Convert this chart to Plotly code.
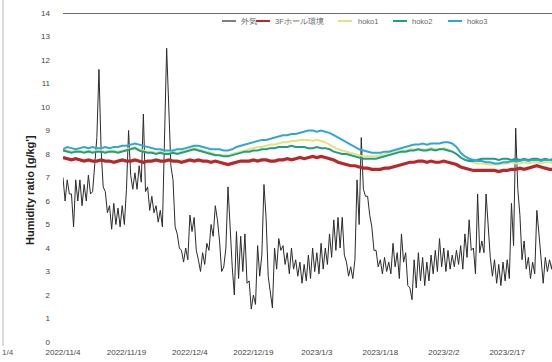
import numpy as np
import pandas as pd
import plotly.graph_objects as go

# ---- data -------------------------------------------------------------
start = "2022-11-04"

# outdoor humidity ratio, two readings per day (00h / 12h)
outdoor = [
    7.0, 6.0, 6.9, 6.3, 6.3, 4.9, 6.9, 6.0, 6.9, 5.8, 6.7, 6.0, 7.1, 6.3, 6.4, 7.4,
    8.7, 11.6, 8.2, 6.6, 6.4, 5.5, 5.8, 4.8, 5.9, 5.0, 5.7, 4.9, 5.8, 5.0, 6.5, 9.0,
    7.1, 6.5, 7.2, 6.5, 7.5, 6.8, 9.7, 6.4, 6.6, 5.6, 6.2, 5.5, 5.8, 5.1, 5.6, 4.9,
    8.9, 12.5, 10.0, 7.5, 6.9, 4.9, 4.6, 4.0, 3.9, 3.4, 4.0, 3.5, 5.4, 4.7, 5.3, 3.9,
    3.5, 3.0, 3.8, 3.3, 4.2, 3.9, 5.0, 4.5, 5.8, 5.2, 4.3, 3.0, 3.2, 4.0, 6.6, 4.6,
    3.2, 2.0, 4.7, 2.7, 4.5, 3.0, 4.6, 2.5, 2.6, 1.4, 2.0, 1.6, 4.1, 2.8, 3.7, 6.7,
    5.3, 2.8, 2.2, 1.45, 4.0, 3.1, 4.4, 3.9, 4.1, 3.3, 3.8, 2.9, 4.0, 3.1, 3.5, 2.8,
    3.4, 2.5, 3.3, 2.6, 3.7, 2.7, 4.0, 3.0, 3.8, 2.9, 4.2, 3.1, 4.0, 3.3, 4.6, 3.6,
    5.2, 3.9, 5.3, 4.0, 5.3, 3.7, 3.4, 2.8, 3.2, 2.7, 3.5, 6.9, 5.0, 8.7, 6.5, 6.2,
    6.2, 5.4, 4.9, 3.9, 3.9, 3.2, 3.5, 2.9, 3.6, 3.0, 3.4, 2.9, 4.2, 3.2, 3.8, 2.7,
    4.6, 3.4, 3.8, 2.4, 2.3, 1.8, 3.5, 2.3, 3.8, 2.6, 3.6, 2.4, 3.4, 2.6, 3.7, 2.9,
    3.9, 3.0, 4.4, 3.2, 4.0, 3.0, 3.9, 3.1, 3.7, 3.2, 3.9, 3.3, 4.1, 3.1, 4.6, 3.6,
    5.2, 3.9, 4.0, 2.9, 6.3, 3.8, 4.3, 3.8, 6.3, 4.8, 3.6, 2.8, 3.5, 2.5, 3.3, 2.4,
    3.4, 2.6, 3.5, 2.7, 5.9, 4.1, 9.1, 6.5, 5.4, 3.5, 4.3, 3.1, 3.6, 2.7, 3.4, 2.9,
    5.6, 4.6, 3.4, 2.5, 3.6, 3.0, 3.5, 3.1, 3.8, 3.2,
]

# indoor series, daily values
room3f = [
    7.85, 7.8, 7.75, 7.8, 7.75, 7.7, 7.75, 7.7, 7.7, 7.75, 7.7,
    7.7, 7.65, 7.7, 7.75, 7.7, 7.7, 7.75, 7.7, 7.65, 7.7,
    7.7, 7.75, 7.7, 7.7, 7.75, 7.7, 7.7, 7.65, 7.7, 7.75,
    7.7, 7.75, 7.7, 7.7, 7.65, 7.7, 7.65, 7.6, 7.55, 7.6,
    7.65, 7.7, 7.7, 7.7, 7.75, 7.7, 7.75, 7.75, 7.7, 7.7,
    7.75, 7.75, 7.8, 7.75, 7.8, 7.85, 7.8, 7.85, 7.9, 7.85,
    7.9, 7.85, 7.8, 7.75, 7.65, 7.6, 7.55, 7.5, 7.5, 7.45,
    7.4, 7.4, 7.35, 7.35, 7.35, 7.4, 7.4, 7.45, 7.5, 7.55,
    7.6, 7.65, 7.65, 7.7, 7.7, 7.65, 7.7, 7.65, 7.65, 7.7,
    7.65, 7.6, 7.55, 7.45, 7.4, 7.35, 7.3, 7.3, 7.3, 7.3,
    7.3, 7.3, 7.25, 7.3, 7.3, 7.35, 7.35, 7.4, 7.35, 7.4,
    7.45, 7.5, 7.45, 7.4, 7.35, 7.35,
]
hoko1 = [
    8.2, 8.15, 8.1, 8.15, 8.15, 8.1, 8.15, 8.1, 8.15, 8.15, 8.1,
    8.15, 8.15, 8.1, 8.15, 8.2, 8.25, 8.3, 8.2, 8.15, 8.1,
    8.1, 8.05, 8.1, 8.05, 8.05, 8.1, 8.05, 8.1, 8.15, 8.2,
    8.25, 8.2, 8.15, 8.1, 8.05, 8.0, 7.95, 7.95, 7.95, 8.0,
    8.05, 8.1, 8.15, 8.2, 8.25, 8.3, 8.3, 8.35, 8.4, 8.4,
    8.45, 8.5, 8.5, 8.55, 8.55, 8.6, 8.6, 8.6, 8.55, 8.6,
    8.55, 8.5, 8.4, 8.3, 8.2, 8.15, 8.1, 8.05, 8.0, 7.95,
    7.9, 7.9, 7.9, 7.9, 7.95, 8.0, 8.05, 8.05, 8.1, 8.15,
    8.15, 8.2, 8.2, 8.2, 8.2, 8.2, 8.25, 8.2, 8.2, 8.25,
    8.2, 8.1, 8.0, 7.85, 7.75, 7.7, 7.65, 7.6, 7.6, 7.55,
    7.55, 7.55, 7.55, 7.6, 7.6, 7.65, 7.6, 7.6, 7.65, 7.6,
    7.65, 7.65, 7.6, 7.65, 7.65, 7.6,
]
hoko2 = [
    8.15, 8.1, 8.05, 8.1, 8.1, 8.05, 8.1, 8.05, 8.1, 8.1, 8.05,
    8.1, 8.1, 8.05, 8.1, 8.15, 8.2, 8.25, 8.15, 8.1, 8.05,
    8.05, 8.0, 8.05, 8.0, 8.0, 8.05, 8.0, 8.05, 8.1, 8.15,
    8.2, 8.15, 8.1, 8.05, 8.0, 7.95, 7.95, 7.9, 7.9, 7.95,
    8.0, 8.05, 8.1, 8.1, 8.15, 8.15, 8.2, 8.2, 8.25, 8.25,
    8.3, 8.3, 8.3, 8.35, 8.3, 8.3, 8.3, 8.25, 8.25, 8.3,
    8.25, 8.25, 8.2, 8.1, 8.05, 8.0, 8.0, 7.95, 7.9, 7.85,
    7.8, 7.8, 7.8, 7.8, 7.85, 7.9, 7.95, 8.0, 8.05, 8.1,
    8.1, 8.15, 8.15, 8.2, 8.15, 8.15, 8.2, 8.15, 8.2, 8.2,
    8.15, 8.1, 8.0, 7.85, 7.75, 7.7, 7.7, 7.75, 7.8, 7.8,
    7.8, 7.8, 7.75, 7.8, 7.8, 7.75, 7.8, 7.75, 7.8, 7.75,
    7.8, 7.8, 7.75, 7.8, 7.75, 7.8,
]
hoko3 = [
    8.2, 8.3, 8.25, 8.2, 8.25, 8.3, 8.25, 8.3, 8.25, 8.25, 8.3,
    8.25, 8.3, 8.3, 8.35, 8.35, 8.4, 8.45, 8.4, 8.35, 8.3,
    8.25, 8.2, 8.2, 8.15, 8.15, 8.15, 8.2, 8.2, 8.25, 8.3,
    8.35, 8.35, 8.3, 8.25, 8.2, 8.2, 8.2, 8.15, 8.15, 8.2,
    8.3, 8.35, 8.4, 8.45, 8.5, 8.55, 8.6, 8.6, 8.65, 8.7,
    8.75, 8.8, 8.8, 8.85, 8.85, 8.9, 8.95, 9.0, 9.0, 8.95,
    9.0, 8.95, 8.9, 8.8, 8.7, 8.6, 8.5, 8.4, 8.3, 8.2,
    8.15, 8.1, 8.05, 8.05, 8.05, 8.1, 8.1, 8.15, 8.2, 8.25,
    8.3, 8.35, 8.4, 8.4, 8.45, 8.4, 8.45, 8.45, 8.45, 8.5,
    8.5, 8.45, 8.3, 8.05, 7.9, 7.8, 7.75, 7.7, 7.7, 7.65,
    7.65, 7.6, 7.6, 7.65, 7.65, 7.7, 7.7, 7.7, 7.75, 7.7,
    7.75, 7.75, 7.7, 7.75, 7.75, 7.7,
]

series_names = ["外気", "3Fホール環境", "hoko1", "hoko2", "hoko3"]
series_colors = ["#2b2b2b", "#b8282a", "#e4e47a", "#1f9e86", "#2ea6d6"]
y_ticks = list(range(0, 15))

t_half = pd.date_range(start, periods=len(outdoor), freq="12h")
t_day = pd.date_range(start, periods=len(room3f), freq="D")

# ---- figure -----------------------------------------------------------
W, H = 552, 362
L, R, T, B = 63, 0, 13, 20
pw, ph = W - L - R, H - T - B


def px(x):
    return (x - L) / pw


def py(y):
    return (H - B - y) / ph


fig = go.Figure()
fig.add_trace(go.Scatter(x=t_half, y=outdoor, mode="lines",
                         line=dict(color=series_colors[0], width=1), showlegend=False))
fig.add_trace(go.Scatter(x=t_day, y=room3f, mode="lines",
                         line=dict(color=series_colors[1], width=3.2), showlegend=False))
fig.add_trace(go.Scatter(x=t_day, y=hoko1, mode="lines",
                         line=dict(color=series_colors[2], width=2), showlegend=False))
fig.add_trace(go.Scatter(x=t_day, y=hoko2, mode="lines",
                         line=dict(color=series_colors[3], width=2), showlegend=False))
fig.add_trace(go.Scatter(x=t_day, y=hoko3, mode="lines",
                         line=dict(color=series_colors[4], width=2), showlegend=False))

shapes = []
annotations = []

# top border line at the axis maximum
shapes.append(dict(type="line", xref="paper", yref="y", x0=0, x1=1, y0=14, y1=14,
                   line=dict(color="#3a3a3a", width=1.3)))

# compact legend row
legend_items = [(222, 239), (256, 273), (338, 356), (393, 410), (448, 465)]
for (lx, tx), name, col in zip(legend_items, series_names, series_colors):
    shapes.append(dict(type="line", xref="paper", yref="paper",
                       x0=px(lx), x1=px(lx + 14), y0=py(21), y1=py(21),
                       line=dict(color=col, width=2 if col != series_colors[0] else 1.2)))
    annotations.append(dict(x=px(tx), y=py(21), xref="paper", yref="paper",
                            text=name, showarrow=False, xanchor="left", yanchor="middle",
                            font=dict(size=7.5, color="#666", family="Liberation Sans")))

# neighbouring panel edge and its last tick label
shapes.append(dict(type="line", xref="paper", yref="paper", x0=px(3), x1=px(3),
                   y0=py(0), y1=py(346), line=dict(color="#bbbbbb", width=1)))
annotations.append(dict(x=px(0), y=py(352), xref="paper", yref="paper", text="1/4",
                        showarrow=False, xanchor="left", yanchor="middle",
                        font=dict(size=8, color="#555", family="Liberation Sans")))

# y-axis title
annotations.append(dict(x=px(30), y=py(190), xref="paper", yref="paper",
                        text="<b>Humidity ratio [g/kg']</b>", textangle=-90,
                        showarrow=False, xanchor="center", yanchor="middle",
                        font=dict(size=11, color="#222", family="Liberation Sans")))

fig.update_layout(
    width=W, height=H,
    margin=dict(l=L, r=R, t=T, b=B),
    paper_bgcolor="white", plot_bgcolor="white",
    shapes=shapes, annotations=annotations,
    showlegend=False,
    font=dict(family="Liberation Sans", color="#444"),
)
fig.update_xaxes(
    type="date",
    range=["2022-11-04", "2023-02-27 14:00"],
    tick0=start, dtick=15 * 86400000,
    tickformat="%Y/%-m/%-d",
    showgrid=False, zeroline=False, showline=False,
    ticks="", ticklabelstandoff=4,
    tickfont=dict(size=8, color="#444"),
)
fig.update_yaxes(
    range=[0, 14], tickvals=y_ticks,
    showgrid=False, zeroline=False, showline=False,
    ticks="", ticklabelstandoff=12,
    tickfont=dict(size=8, color="#444"),
)

fig.write_html("out.html")
